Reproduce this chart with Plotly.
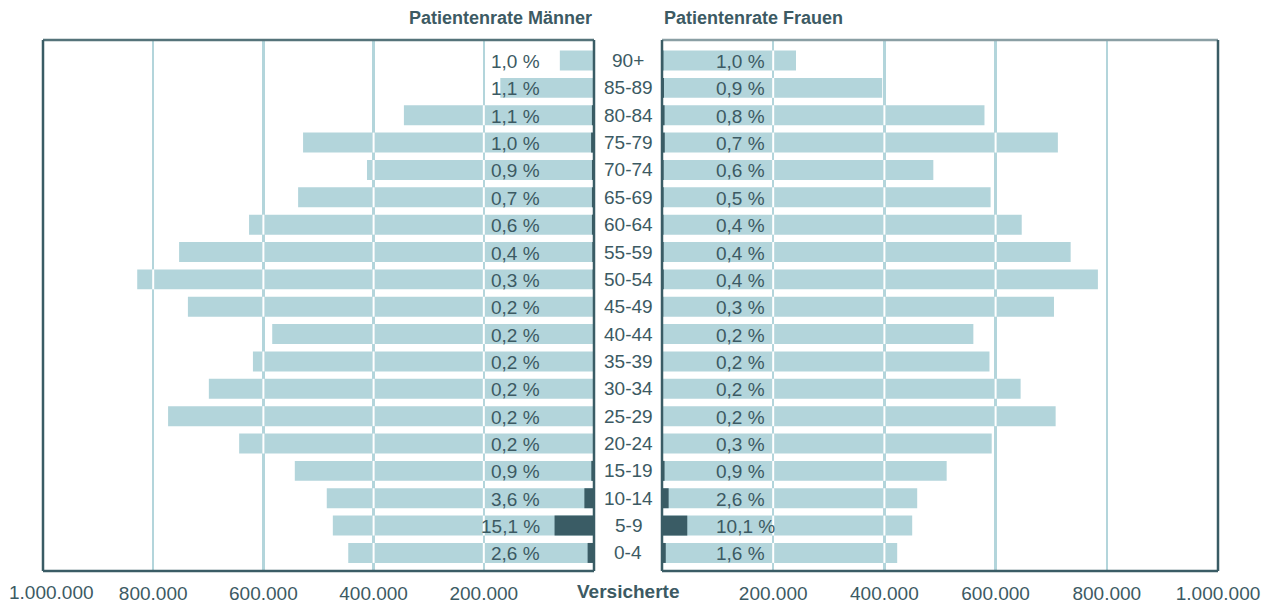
import plotly.graph_objects as go

# Data (top to bottom as shown)
age_groups = ["90+", "85-89", "80-84", "75-79", "70-74", "65-69", "60-64", "55-59", "50-54",
              "45-49", "40-44", "35-39", "30-34", "25-29", "20-24", "15-19", "10-14", "5-9", "0-4"]
insured_men = [62000, 170000, 345000, 528000, 412000, 537000, 626000, 753000, 829000,
               737000, 584000, 619000, 699000, 773000, 644000, 543000, 485000, 474000, 446000]
insured_women = [241000, 396000, 580000, 712000, 488000, 591000, 647000, 735000, 784000,
                 705000, 560000, 589000, 645000, 708000, 593000, 512000, 459000, 450000, 423000]
rate_men = [1.0, 1.1, 1.1, 1.0, 0.9, 0.7, 0.6, 0.4, 0.3, 0.2, 0.2, 0.2, 0.2, 0.2, 0.2, 0.9, 3.6, 15.1, 2.6]
rate_women = [1.0, 0.9, 0.8, 0.7, 0.6, 0.5, 0.4, 0.4, 0.4, 0.3, 0.2, 0.2, 0.2, 0.2, 0.3, 0.9, 2.6, 10.1, 1.6]
tick_vals = [0, 200000, 400000, 600000, 800000, 1000000]
tick_text = ["", "200.000", "400.000", "600.000", "800.000", "1.000.000"]

patients_men = [p * r / 100 for p, r in zip(insured_men, rate_men)]
patients_women = [p * r / 100 for p, r in zip(insured_women, rate_women)]

LIGHT = "#b3d5db"
DARK = "#3a5c65"
TEXT = "#3c5a63"
FONT = "Liberation Sans, Arial, sans-serif"

W, H = 1270, 605
ML, MR, MT, MB = 43, 52, 40, 34
PW = W - ML - MR
left_dom = [0, (594 - ML) / PW]
right_dom = [(662 - ML) / PW, 1]
BW = 0.73

fig = go.Figure()
fig.add_trace(go.Bar(y=age_groups, x=insured_men, orientation="h", marker=dict(color=LIGHT, line=dict(width=0)),
                     width=BW, xaxis="x", yaxis="y", hoverinfo="skip", showlegend=False))
fig.add_trace(go.Bar(y=age_groups, x=patients_men, orientation="h", marker=dict(color=DARK, line=dict(width=0)),
                     width=BW, xaxis="x", yaxis="y", hoverinfo="skip", showlegend=False))
fig.add_trace(go.Bar(y=age_groups, x=insured_women, orientation="h", marker=dict(color=LIGHT, line=dict(width=0)),
                     width=BW, xaxis="x2", yaxis="y2", hoverinfo="skip", showlegend=False))
fig.add_trace(go.Bar(y=age_groups, x=patients_women, orientation="h", marker=dict(color=DARK, line=dict(width=0)),
                     width=BW, xaxis="x2", yaxis="y2", hoverinfo="skip", showlegend=False))

cat_order = list(reversed(age_groups))
yrange = [-0.66, 18.75]
axis_font = dict(family=FONT, size=19, color=TEXT)

fig.update_layout(
    width=W, height=H,
    margin=dict(l=ML, r=MR, t=MT, b=MB, autoexpand=False),
    paper_bgcolor="white", plot_bgcolor="white",
    barmode="overlay",
    font=dict(family=FONT, color=TEXT),
    xaxis=dict(domain=left_dom, range=[1000000, 0], tickvals=tick_vals, ticktext=tick_text[:-1] + [""],
               showgrid=True, gridcolor=LIGHT, gridwidth=2.5, zeroline=False, showline=False, automargin=False,
               ticks="", tickfont=axis_font, ticklabelstandoff=9, fixedrange=True),
    xaxis2=dict(domain=right_dom, range=[0, 1000000], tickvals=tick_vals, ticktext=tick_text,
                showgrid=True, gridcolor=LIGHT, gridwidth=2.5, zeroline=False, showline=False, automargin=False,
                ticks="", tickfont=axis_font, ticklabelstandoff=9, fixedrange=True),
    yaxis=dict(type="category", categoryorder="array", categoryarray=cat_order, range=yrange, automargin=False,
               showticklabels=False, showgrid=False, zeroline=False, showline=False, anchor="x", fixedrange=True),
    yaxis2=dict(type="category", categoryorder="array", categoryarray=cat_order, range=yrange, automargin=False,
                showticklabels=False, showgrid=False, zeroline=False, showline=False, anchor="x2", fixedrange=True),
)

shapes = []
# white gaps where gridlines cross the bars
for g in tick_vals[1:-1]:
    for cat, pm, pw in zip(age_groups, insured_men, insured_women):
        idx = cat_order.index(cat)
        if pm > g:
            shapes.append(dict(type="line", xref="x", yref="y", x0=g, x1=g, y0=idx - BW / 2, y1=idx + BW / 2,
                               line=dict(color="white", width=2), layer="above"))
        if pw > g:
            shapes.append(dict(type="line", xref="x2", yref="y2", x0=g, x1=g, y0=idx - BW / 2, y1=idx + BW / 2,
                               line=dict(color="white", width=2), layer="above"))

# frames
def frame(xr, yr, top_color):
    lw = 2.5
    return [
        dict(type="line", xref=xr + " domain", yref=yr + " domain", x0=0, x1=1, y0=1, y1=1,
             line=dict(color=top_color, width=lw), layer="above"),
        dict(type="line", xref=xr + " domain", yref=yr + " domain", x0=0, x1=1, y0=0, y1=0,
             line=dict(color=DARK, width=lw), layer="above"),
        dict(type="line", xref=xr + " domain", yref=yr + " domain", x0=0, x1=0, y0=0, y1=1,
             line=dict(color=DARK, width=lw), layer="above"),
        dict(type="line", xref=xr + " domain", yref=yr + " domain", x0=1, x1=1, y0=0, y1=1,
             line=dict(color=DARK, width=lw), layer="above"),
    ]

shapes += frame("x", "y", "#55737a")
shapes += frame("x2", "y2", "#8a9fa4")
fig.update_layout(shapes=shapes)

annotations = []
label_font = dict(family=FONT, size=19, color=TEXT)
center_x = ((594 + 662) / 2 - ML) / PW
for cat, rm, rw in zip(age_groups, rate_men, rate_women):
    annotations.append(dict(x=center_x, xref="paper", y=cat, yref="y", text=cat, showarrow=False,
                            xanchor="center", yanchor="middle", font=label_font))
    annotations.append(dict(x=100000, xref="x", y=cat, yref="y", text=f"{rm:.1f} %".replace(".", ","),
                            showarrow=False, xanchor="right", yanchor="middle", font=label_font, xshift=3, yshift=-1))
    annotations.append(dict(x=100000, xref="x2", y=cat, yref="y2", text=f"{rw:.1f} %".replace(".", ","),
                            showarrow=False, xanchor="left", yanchor="middle", font=label_font, xshift=-4, yshift=-1))

# outermost left tick label, kept inside the page like the reference
annotations.append(dict(x=tick_vals[-1], xref="x", y=0, yref="paper", yshift=-21, xshift=8, text=tick_text[-1],
                        showarrow=False, xanchor="center", yanchor="middle", font=axis_font))

title_font = dict(family=FONT, size=18, color=TEXT)
annotations.append(dict(x=left_dom[1], xref="paper", y=1, yref="paper", yshift=22, text="<b>Patientenrate Männer</b>",
                        showarrow=False, xanchor="right", yanchor="middle", font=title_font))
annotations.append(dict(x=right_dom[0], xref="paper", y=1, yref="paper", yshift=22, text="<b>Patientenrate Frauen</b>",
                        showarrow=False, xanchor="left", yanchor="middle", font=title_font))
annotations.append(dict(x=center_x, xref="paper", y=0, yref="paper", yshift=-20, text="<b>Versicherte</b>",
                        showarrow=False, xanchor="center", yanchor="middle",
                        font=dict(family=FONT, size=19, color=TEXT)))
fig.update_layout(annotations=annotations)

fig.write_html("out.html", config={"displayModeBar": False, "staticPlot": True},
               post_script="document.body.style.margin='0px';")
